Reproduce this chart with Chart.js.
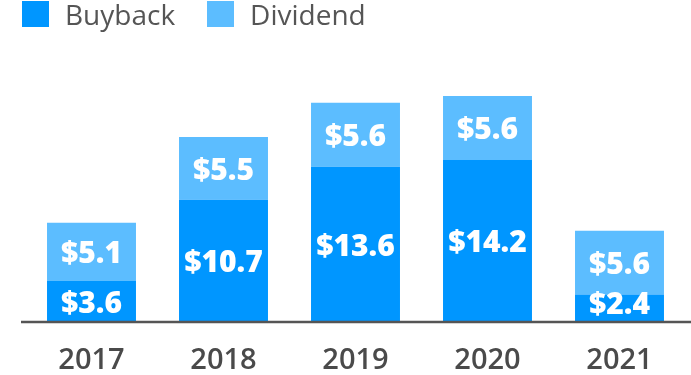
<!DOCTYPE html>
<html>
<head>
<meta charset="utf-8">
<script src="https://cdn.jsdelivr.net/npm/chart.js@4.4.1/dist/chart.umd.min.js"></script>
<style>
  body { margin: 0; background: #fff; }
  #wrap { position: relative; width: 691px; height: 375px; }
  #legend { position: absolute; left: 22px; top: 1px; display: flex; font-family: "Open Sans", sans-serif; font-size: 28px; color: #555; }
  .item { display: flex; align-items: center; margin-right: 32px; line-height: 26px; }
  .swatch { width: 27px; height: 26px; margin-right: 16px; }
</style>
</head>
<body>
<div id="wrap">
  <canvas id="chart" width="691" height="375"></canvas>
  <div id="legend"></div>
</div>
<script>
// ====================== DATA ======================
const years = ["2017", "2018", "2019", "2020", "2021"];
const buyback = [3.6, 10.7, 13.6, 14.2, 2.4];
const dividend = [5.1, 5.5, 5.6, 5.6, 5.6];

const BUYBACK_COLOR = "#0096ff";
const DIVIDEND_COLOR = "#5cbdff";

// ====================== PLUGINS ======================
// white $ labels in the middle of every segment + the dark baseline
const segmentLabels = {
  id: "segmentLabels",
  afterDatasetsDraw(chart) {
    const ctx = chart.ctx;
    ctx.save();
    ctx.fillStyle = "#fff";
    ctx.font = "800 30px 'Open Sans', sans-serif";
    ctx.textAlign = "center";
    ctx.textBaseline = "middle";
    chart.data.datasets.forEach((ds, i) => {
      const meta = chart.getDatasetMeta(i);
      meta.data.forEach((bar, j) => {
        const p = bar.getProps(["x", "y", "base"], true);
        // keep small segments' labels from touching the baseline
        const mid = Math.min((p.y + p.base) / 2 + 3, p.base - 17);
        ctx.fillText("$" + ds.data[j].toFixed(1), p.x, mid);
      });
    });

    // baseline
    const y = chart.chartArea.bottom;
    ctx.strokeStyle = "#555";
    ctx.lineWidth = 2.5;
    ctx.beginPath();
    ctx.moveTo(21, y);
    ctx.lineTo(691, y);
    ctx.stroke();
    ctx.restore();
  }
};

// ====================== CHART ======================
const chart = new Chart(document.getElementById("chart"), {
  type: "bar",
  data: {
    labels: years,
    datasets: [
      { label: "Buyback", data: buyback, backgroundColor: BUYBACK_COLOR },
      { label: "Dividend", data: dividend, backgroundColor: DIVIDEND_COLOR }
    ]
  },
  options: {
    responsive: false,
    animation: false,
    layout: { padding: { top: 48, right: 5.5, bottom: 0, left: 12 } },
    datasets: { bar: { barPercentage: 0.674, categoryPercentage: 1 } },
    scales: {
      x: {
        stacked: true,
        grid: { display: false, drawTicks: false },
        border: { display: false },
        ticks: {
          color: "#4a4a4a",
          padding: 21,
          font: { family: "'Open Sans', sans-serif", size: 29, weight: 600 }
        },
        afterFit(scale) { scale.height = 53; }
      },
      y: {
        stacked: true,
        min: 0,
        max: 24,
        grid: { display: false, drawTicks: false },
        border: { display: false },
        ticks: { display: false },
        afterFit(scale) { scale.width = 13.5; }
      }
    },
    plugins: {
      legend: { display: false },
      tooltip: { enabled: false }
    }
  },
  plugins: [segmentLabels]
});

// ====================== LEGEND ======================
const legendEl = document.getElementById("legend");
chart.data.datasets.forEach(ds => {
  const item = document.createElement("div");
  item.className = "item";
  item.innerHTML = `<span class="swatch" style="background:${ds.backgroundColor}"></span><span>${ds.label}</span>`;
  legendEl.appendChild(item);
});
</script>
</body>
</html>
